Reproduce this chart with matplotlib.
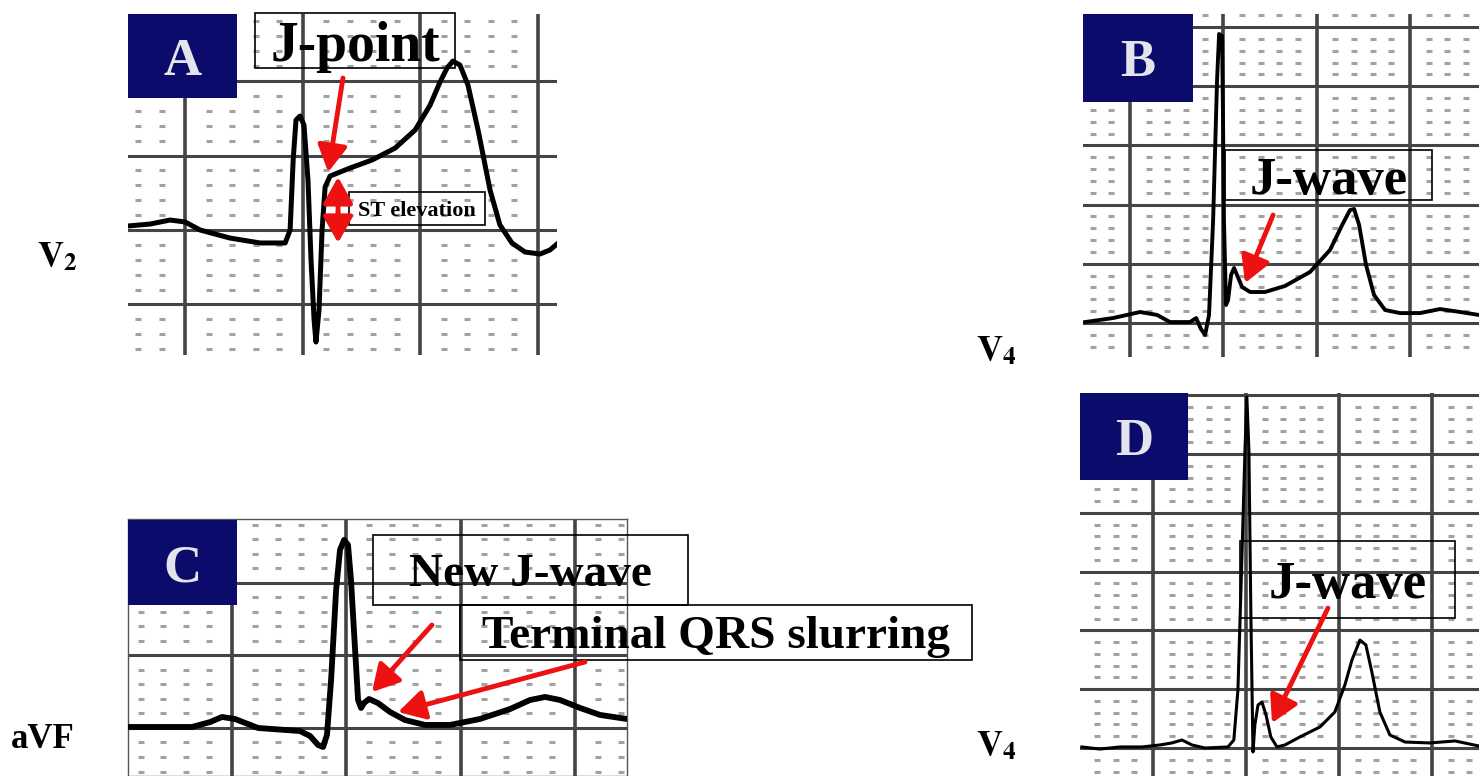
import matplotlib
matplotlib.use('Agg')
import math
import matplotlib.pyplot as plt
import numpy as np
from matplotlib.patches import Rectangle, FancyArrowPatch

plt.rcParams['font.family'] = ['Liberation Serif', 'DejaVu Serif']
plt.rcParams['mathtext.fontset'] = 'stix'

# ECG traces in paper units: x and y both in small boxes (1 mm)
# A - V2, J-point with ST elevation
a_x = [2.57, 3.51, 4.36, 5.0, 5.64, 6.91, 8.19, 9.26, 9.47, 9.60, 9.72, 9.89,
       10.06, 10.23, 10.36, 10.49, 10.57, 10.70, 10.83, 10.96, 11.17, 12.02,
       12.96, 13.94, 14.79, 15.43, 15.85, 16.15, 16.40, 16.70, 17.04, 17.47,
       17.98, 18.40, 18.91, 19.47, 20.11, 20.53, 20.83]
a_y = [0.27, 0.40, 0.67, 0.54, 0.0, -0.54, -0.87, -0.87, 0.0, 4.70, 7.38, 7.65,
       7.05, 3.36, -2.01, -6.04, -7.52, -5.37, 0.0, 2.89, 3.62, 4.16,
       4.70, 5.50, 6.71, 8.39, 9.93, 10.87, 11.34, 11.07, 9.73, 6.71,
       2.68, 0.34, -0.87, -1.48, -1.61, -1.34, -0.94]

# B - V4, J-wave
b_x = [2.59, 4.09, 5.54, 6.45, 7.14, 8.21, 8.54, 8.80, 9.02, 9.23, 9.45, 9.66,
       9.77, 9.93, 9.98, 10.03, 10.14, 10.25, 10.41, 10.57, 10.73, 11.0, 11.43,
       12.23, 13.30, 14.64, 15.71, 16.36, 16.78, 17.0, 17.27, 17.64, 18.07,
       18.66, 19.46, 20.53, 21.60, 22.68, 23.69]
b_y = [0.08, 0.42, 0.93, 0.68, 0.08, 0.08, 0.42, -0.51, -1.01, 0.68, 8.70, 20.52,
       24.41, 24.24, 17.14, 8.70, 1.52, 1.94, 4.05, 4.65, 4.05, 3.04, 2.62,
       2.62, 3.13, 4.31, 6.17, 8.28, 9.54, 9.63, 8.28, 4.90, 2.36,
       1.10, 0.84, 0.84, 1.18, 0.93, 0.68]

# C - aVF, new J-wave and terminal QRS slurring
c_x = [0.45, 3.25, 4.04, 4.56, 5.13, 6.14, 7.97, 8.41, 8.76, 8.98, 9.15, 9.33,
       9.55, 9.72, 9.90, 10.07, 10.20, 10.38, 10.51, 10.64, 10.77, 10.99, 11.38,
       11.91, 12.56, 13.44, 14.53, 15.84, 17.16, 18.03, 18.69, 19.34, 20.22,
       21.09, 22.27]
c_y = [0.07, 0.07, 0.41, 0.76, 0.62, 0.0, -0.21, -0.55, -1.17, -1.31, -0.48, 3.31,
       9.52, 12.28, 12.97, 12.62, 10.21, 5.38, 1.93, 1.38, 1.72, 2.0, 1.72,
       1.10, 0.55, 0.21, 0.21, 0.62, 1.31, 1.93, 2.14, 1.93, 1.38,
       0.90, 0.62]

# D - V4, J-wave
d_x = [1.18, 2.15, 3.23, 4.41, 5.38, 6.02, 6.56, 7.10, 7.80, 9.03, 9.35, 9.57,
       9.78, 9.95, 10.05, 10.16, 10.27, 10.38, 10.48, 10.65, 10.86, 11.08, 11.34,
       11.67, 12.10, 12.90, 13.98, 14.78, 15.32, 15.70, 16.13, 16.45, 16.77,
       17.20, 17.74, 18.55, 19.89, 21.24, 22.53]
d_y = [0.09, -0.09, 0.09, 0.09, 0.26, 0.43, 0.68, 0.26, 0.0, 0.09, 0.68, 4.93,
       15.99, 25.34, 29.85, 25.34, 10.88, -0.34, 1.96, 3.66, 3.91, 2.81, 0.94,
       0.09, 0.26, 0.94, 1.79, 3.06, 5.36, 7.48, 9.18, 8.76, 6.46,
       3.06, 1.11, 0.51, 0.43, 0.60, 0.17]

NAVY = '#0b0b6b'
RED = '#ee1111'

fig = plt.figure(figsize=(14.79, 7.76), dpi=100)


def ecg_panel(rect, xlim, ylim, border=False):
    ax = fig.add_axes(rect)
    ax.set_xlim(*xlim)
    ax.set_ylim(*ylim)
    ax.set_xticks([])
    ax.set_yticks([])
    for sp in ax.spines.values():
        sp.set_visible(border)
        sp.set_color('#555555')
        sp.set_linewidth(1.0)
    # 1 mm dots and 5 mm lines of the paper
    xs = [v for v in range(math.ceil(xlim[0]), math.floor(xlim[1]) + 1) if v % 5]
    ys = [v for v in range(math.ceil(ylim[0]), math.floor(ylim[1]) + 1) if v % 5]
    gx, gy = np.meshgrid(xs, ys)
    ax.plot(gx.ravel(), gy.ravel(), ls='none', marker='_', ms=4.5, mew=2.2,
            color='#a2a2a2', zorder=1)
    for v in range(math.ceil(xlim[0]), math.floor(xlim[1]) + 1):
        if v % 5 == 0:
            ax.axvline(v, color='#444444', lw=2.6, zorder=2)
    for v in range(math.ceil(ylim[0]), math.floor(ylim[1]) + 1):
        if v % 5 == 0:
            ax.axhline(v, color='#444444', lw=2.2, zorder=2)
    return ax


def letter_box(ax, x0, x1, y0, y1, letter):
    ax.add_patch(Rectangle((x0, y0), x1 - x0, y1 - y0, facecolor=NAVY,
                           edgecolor='none', zorder=5))
    ax.text((x0 + x1) / 2, (y0 + y1) / 2, letter, color='#e4e4ec', fontsize=38,
            fontweight='bold', ha='center', va='center_baseline', zorder=6)


def label_box(ax, x0, x1, y0, y1, text, size):
    ax.add_patch(Rectangle((x0, y0), x1 - x0, y1 - y0, fill=False,
                           edgecolor='black', lw=1.2, zorder=7, clip_on=False))
    ax.text((x0 + x1) / 2, (y0 + y1) / 2, text, fontsize=size, fontweight='bold',
            ha='center', va='center_baseline', zorder=8, clip_on=False)


def red_arrow(ax, tail, head, both=False, lw=3.5):
    style = '<|-|>' if both else '-|>'
    ax.add_patch(FancyArrowPatch(tail, head,
                                 arrowstyle=f'{style},head_length=0.8,head_width=0.45',
                                 mutation_scale=20, lw=lw, color=RED, zorder=9,
                                 clip_on=False, shrinkA=0, shrinkB=0))


# A
ax_a = ecg_panel([0.08655, 0.54253, 0.29006, 0.43943], (2.57, 20.83), (-8.39, 14.50))
ax_a.plot(a_x, a_y, color='black', lw=3.6, solid_joinstyle='round', zorder=4)
letter_box(ax_a, 2.57, 7.21, 8.86, 14.50, 'A')
label_box(ax_a, 7.98, 16.49, 10.87, 14.56, 'J-point', 40)
red_arrow(ax_a, (11.72, 10.20), (11.09, 3.89))
red_arrow(ax_a, (11.51, 1.2), (11.51, 3.56))
red_arrow(ax_a, (11.51, 1.2), (11.51, -0.87))
label_box(ax_a, 11.98, 17.77, 0.34, 2.55, 'ST elevation', 16)

# B
ax_b = ecg_panel([0.73225, 0.53995, 0.26775, 0.44201], (2.48, 23.69), (-2.87, 26.10))
ax_b.plot(b_x, b_y, color='black', lw=2.8, solid_joinstyle='round', zorder=4)
letter_box(ax_b, 2.48, 8.37, 18.67, 26.10, 'B')
label_box(ax_b, 10.09, 21.18, 10.39, 14.61, 'J-wave', 38)
red_arrow(ax_b, (12.66, 9.12), (11.16, 3.38))

# C
ax_c = ecg_panel([0.08655, 0.0, 0.33739, 0.33119], (0.45, 22.27), (-3.31, 14.41),
                 border=True)
ax_c.plot(c_x, c_y, color='black', lw=4.2, solid_joinstyle='round', zorder=4)
letter_box(ax_c, 0.45, 5.22, 8.48, 14.34, 'C')
label_box(ax_c, 11.17, 24.95, 8.48, 13.31, 'New J-wave', 34)
label_box(ax_c, 14.97, 37.36, 4.69, 8.48, 'Terminal QRS slurring', 34)
red_arrow(ax_c, (13.74, 7.10), (11.12, 2.48))
red_arrow(ax_c, (20.43, 4.55), (12.26, 1.10))

# D
ax_d = ecg_panel([0.73022, 0.0, 0.26978, 0.49356], (1.08, 22.53), (-2.38, 30.19))
ax_d.plot(d_x, d_y, color='black', lw=2.2, solid_joinstyle='round', zorder=4)
letter_box(ax_d, 1.08, 6.88, 22.79, 30.19, 'D')
label_box(ax_d, 9.68, 21.24, 11.05, 17.60, 'J-wave', 38)
red_arrow(ax_d, (14.41, 11.90), (11.40, 2.13))

# lead names
fig.text(0.0385, 0.668, r'$\mathbf{V}_{\mathbf{2}}$', fontsize=26, ha='center', va='center')
fig.text(0.6734, 0.5464, r'$\mathbf{V}_{\mathbf{4}}$', fontsize=26, ha='center', va='center')
fig.text(0.0291, 0.0464, 'aVF', fontsize=25, fontweight='bold', ha='center', va='center')
fig.text(0.6734, 0.0374, r'$\mathbf{V}_{\mathbf{4}}$', fontsize=26, ha='center', va='center')

fig.savefig('out.png', dpi=100, facecolor='white')
